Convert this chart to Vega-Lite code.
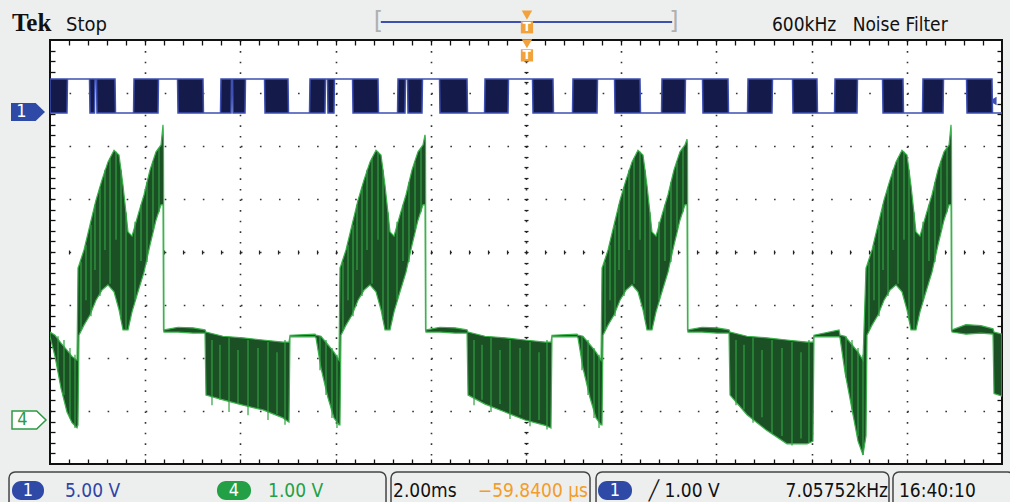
{
 "$schema": "https://vega.github.io/schema/vega-lite/v6.json",
 "width": 952, "height": 424,
 "autosize": {"type": "none"},
 "padding": {"left": 50, "top": 40, "right": 8, "bottom": 38},
 "background": "#edefee",
 "config": {
  "view": {"stroke": "#111111", "strokeWidth": 2, "fill": "#ffffff"},
  "text": {"font": "DejaVu Sans Condensed, Liberation Sans Narrow, Roboto", "fontSize": 19, "align": "left", "baseline": "alphabetic"}
 },
 "data": {"values": [{}]},
 "datasets": {
  "green": [
   {"t":-10.0,"hi":1.66,"lo":1.58},{"t":-9.895,"hi":1.60,"lo":1.20},{"t":-9.769,"hi":1.45,"lo":0.60},{"t":-9.643,"hi":1.32,"lo":0.15},{"t":-9.538,"hi":1.20,"lo":-0.05},{"t":-9.433,"hi":1.13,"lo":-0.15},
   {"t":-9.412,"hi":2.87,"lo":-0.09},{"t":-9.391,"hi":2.92,"lo":1.60},{"t":-9.286,"hi":3.21,"lo":1.79},{"t":-9.160,"hi":3.68,"lo":1.98},{"t":-9.034,"hi":4.15,"lo":2.26},{"t":-8.908,"hi":4.53,"lo":2.45},{"t":-8.782,"hi":4.87,"lo":2.55},{"t":-8.655,"hi":5.09,"lo":2.42},{"t":-8.550,"hi":5.00,"lo":2.08},{"t":-8.466,"hi":4.43,"lo":1.70},{"t":-8.361,"hi":3.55,"lo":1.70},{"t":-8.277,"hi":3.47,"lo":2.04},{"t":-8.151,"hi":3.87,"lo":2.42},{"t":-8.025,"hi":4.25,"lo":2.79},{"t":-7.899,"hi":4.72,"lo":3.30},{"t":-7.773,"hi":5.06,"lo":3.77},{"t":-7.668,"hi":5.19,"lo":4.06},{"t":-7.626,"hi":5.57,"lo":4.06},{"t":-7.616,"hi":5.28,"lo":1.70},{"t":-7.605,"hi":1.70,"lo":1.66},{"t":-7.311,"hi":1.75,"lo":1.66},{"t":-6.996,"hi":1.74,"lo":1.64},{"t":-6.744,"hi":1.70,"lo":1.64},{"t":-6.723,"hi":1.66,"lo":0.47},{"t":-6.366,"hi":1.58,"lo":0.38},{"t":-5.945,"hi":1.55,"lo":0.28},{"t":-5.525,"hi":1.51,"lo":0.19},{"t":-5.105,"hi":1.47,"lo":0.04},{"t":-4.979,"hi":1.47,"lo":-0.04},{"t":-4.958,"hi":1.60,"lo":1.57},{"t":-4.433,"hi":1.62,"lo":1.57},{"t":-4.412,"hi":1.60,"lo":1.55},{"t":-4.307,"hi":1.58,"lo":0.98},{"t":-4.160,"hi":1.42,"lo":0.42},{"t":-4.034,"hi":1.28,"lo":0.04},{"t":-3.929,"hi":1.13,"lo":-0.09},
   {"t":-3.908,"hi":2.87,"lo":-0.09},{"t":-3.887,"hi":2.92,"lo":1.60},{"t":-3.782,"hi":3.21,"lo":1.79},{"t":-3.655,"hi":3.68,"lo":1.98},{"t":-3.529,"hi":4.15,"lo":2.26},{"t":-3.403,"hi":4.53,"lo":2.45},{"t":-3.277,"hi":4.87,"lo":2.55},{"t":-3.151,"hi":5.09,"lo":2.42},{"t":-3.046,"hi":5.00,"lo":2.08},{"t":-2.962,"hi":4.43,"lo":1.70},{"t":-2.857,"hi":3.55,"lo":1.70},{"t":-2.773,"hi":3.47,"lo":2.04},{"t":-2.647,"hi":3.87,"lo":2.42},{"t":-2.521,"hi":4.25,"lo":2.79},{"t":-2.395,"hi":4.72,"lo":3.30},{"t":-2.269,"hi":5.06,"lo":3.77},{"t":-2.164,"hi":5.19,"lo":4.06},{"t":-2.122,"hi":5.38,"lo":4.06},{"t":-2.111,"hi":5.28,"lo":1.70},{"t":-2.101,"hi":1.70,"lo":1.66},{"t":-1.807,"hi":1.75,"lo":1.66},{"t":-1.492,"hi":1.74,"lo":1.64},{"t":-1.239,"hi":1.70,"lo":1.64},{"t":-1.218,"hi":1.66,"lo":0.47},{"t":-0.861,"hi":1.58,"lo":0.30},{"t":-0.441,"hi":1.55,"lo":0.15},{"t":-0.021,"hi":1.51,"lo":0.0},{"t":0.399,"hi":1.47,"lo":-0.10},{"t":0.525,"hi":1.47,"lo":-0.15},{"t":0.546,"hi":1.60,"lo":1.57},{"t":1.071,"hi":1.62,"lo":1.57},{"t":1.092,"hi":1.60,"lo":1.55},{"t":1.197,"hi":1.58,"lo":0.98},{"t":1.345,"hi":1.42,"lo":0.42},{"t":1.471,"hi":1.28,"lo":0.04},{"t":1.576,"hi":1.13,"lo":-0.09},
   {"t":1.597,"hi":2.87,"lo":-0.09},{"t":1.618,"hi":2.92,"lo":1.60},{"t":1.723,"hi":3.21,"lo":1.79},{"t":1.849,"hi":3.68,"lo":1.98},{"t":1.975,"hi":4.15,"lo":2.26},{"t":2.101,"hi":4.53,"lo":2.45},{"t":2.227,"hi":4.87,"lo":2.55},{"t":2.353,"hi":5.09,"lo":2.42},{"t":2.458,"hi":5.00,"lo":2.08},{"t":2.542,"hi":4.43,"lo":1.70},{"t":2.647,"hi":3.55,"lo":1.70},{"t":2.731,"hi":3.47,"lo":2.04},{"t":2.857,"hi":3.87,"lo":2.42},{"t":2.983,"hi":4.25,"lo":2.79},{"t":3.109,"hi":4.72,"lo":3.30},{"t":3.235,"hi":5.06,"lo":3.77},{"t":3.340,"hi":5.19,"lo":4.06},{"t":3.382,"hi":5.30,"lo":4.06},{"t":3.393,"hi":5.20,"lo":1.70},{"t":3.403,"hi":1.70,"lo":1.66},{"t":3.697,"hi":1.75,"lo":1.66},{"t":4.013,"hi":1.74,"lo":1.64},{"t":4.265,"hi":1.70,"lo":1.64},{"t":4.286,"hi":1.66,"lo":0.47},{"t":4.643,"hi":1.58,"lo":0.10},{"t":5.063,"hi":1.55,"lo":-0.20},{"t":5.483,"hi":1.51,"lo":-0.45},{"t":5.903,"hi":1.47,"lo":-0.45},{"t":6.029,"hi":1.47,"lo":-0.40},{"t":6.050,"hi":1.60,"lo":1.57},{"t":6.576,"hi":1.70,"lo":1.57},{"t":6.597,"hi":1.60,"lo":1.55},{"t":6.702,"hi":1.58,"lo":0.90},{"t":6.849,"hi":1.42,"lo":0.20},{"t":6.975,"hi":1.28,"lo":-0.40},{"t":7.080,"hi":1.13,"lo":-0.66},
   {"t":7.143,"hi":2.87,"lo":-0.30},{"t":7.164,"hi":2.92,"lo":1.60},{"t":7.269,"hi":3.21,"lo":1.79},{"t":7.395,"hi":3.68,"lo":1.98},{"t":7.521,"hi":4.15,"lo":2.26},{"t":7.647,"hi":4.53,"lo":2.45},{"t":7.773,"hi":4.87,"lo":2.55},{"t":7.899,"hi":5.09,"lo":2.42},{"t":8.004,"hi":5.00,"lo":2.08},{"t":8.088,"hi":4.43,"lo":1.70},{"t":8.193,"hi":3.55,"lo":1.70},{"t":8.277,"hi":3.47,"lo":2.04},{"t":8.403,"hi":3.87,"lo":2.42},{"t":8.529,"hi":4.25,"lo":2.79},{"t":8.655,"hi":4.72,"lo":3.30},{"t":8.782,"hi":5.06,"lo":3.77},{"t":8.887,"hi":5.19,"lo":4.06},{"t":8.929,"hi":5.57,"lo":4.06},{"t":8.939,"hi":5.28,"lo":1.70},{"t":8.950,"hi":1.70,"lo":1.66},{"t":9.244,"hi":1.80,"lo":1.62},{"t":9.559,"hi":1.78,"lo":1.64},{"t":9.811,"hi":1.72,"lo":1.62},{"t":9.832,"hi":1.66,"lo":0.50},{"t":10.0,"hi":1.62,"lo":0.45}
  ],
  "stripes": [
   {"t":-9.832,"a":1.58,"b":0.94},{"t":-9.706,"a":1.51,"b":0.47},{"t":-9.580,"a":1.36,"b":0.04},{"t":-9.475,"a":1.23,"b":-0.15},
   {"t":-9.349,"a":2.98,"b":1.70},{"t":-9.244,"a":3.30,"b":2.26},{"t":-9.139,"a":3.68,"b":1.96},{"t":-9.055,"a":4.06,"b":2.83},{"t":-8.950,"a":4.38,"b":2.34},{"t":-8.845,"a":4.72,"b":3.21},{"t":-8.739,"a":4.94,"b":2.57},{"t":-8.613,"a":5.06,"b":3.40},{"t":-8.508,"a":4.72,"b":1.92},{"t":-8.403,"a":3.92,"b":1.70},{"t":-8.214,"a":3.74,"b":2.26},{"t":-8.088,"a":4.06,"b":3.00},{"t":-7.962,"a":4.49,"b":2.98},{"t":-7.836,"a":4.87,"b":3.58},{"t":-7.710,"a":5.13,"b":3.92},
   {"t":-6.597,"a":1.51,"b":0.28},{"t":-6.429,"a":1.42,"b":0.38},{"t":-6.239,"a":1.55,"b":0.15},{"t":-6.050,"a":1.32,"b":0.30},{"t":-5.840,"a":1.51,"b":0.09},{"t":-5.630,"a":1.36,"b":0.23},{"t":-5.420,"a":1.47,"b":0.0},{"t":-5.231,"a":1.28,"b":0.11},{"t":-5.063,"a":1.51,"b":-0.09},
   {"t":-4.328,"a":1.58,"b":0.94},{"t":-4.202,"a":1.51,"b":0.47},{"t":-4.076,"a":1.36,"b":0.04},{"t":-3.971,"a":1.23,"b":-0.15},
   {"t":-3.845,"a":2.98,"b":1.70},{"t":-3.739,"a":3.30,"b":2.26},{"t":-3.634,"a":3.68,"b":1.96},{"t":-3.550,"a":4.06,"b":2.83},{"t":-3.445,"a":4.38,"b":2.34},{"t":-3.340,"a":4.72,"b":3.21},{"t":-3.235,"a":4.94,"b":2.57},{"t":-3.109,"a":5.06,"b":3.40},{"t":-3.004,"a":4.72,"b":1.92},{"t":-2.899,"a":3.92,"b":1.70},{"t":-2.710,"a":3.74,"b":2.26},{"t":-2.584,"a":4.06,"b":3.00},{"t":-2.458,"a":4.49,"b":2.98},{"t":-2.332,"a":4.87,"b":3.58},{"t":-2.206,"a":5.13,"b":3.92},
   {"t":-1.092,"a":1.51,"b":0.28},{"t":-0.924,"a":1.42,"b":0.38},{"t":-0.735,"a":1.55,"b":0.15},{"t":-0.546,"a":1.32,"b":0.30},{"t":-0.336,"a":1.51,"b":0.02},{"t":-0.126,"a":1.36,"b":0.10},{"t":0.084,"a":1.47,"b":-0.12},{"t":0.273,"a":1.28,"b":0.00},{"t":0.441,"a":1.51,"b":-0.18},
   {"t":1.176,"a":1.58,"b":0.94},{"t":1.303,"a":1.51,"b":0.47},{"t":1.429,"a":1.36,"b":0.04},{"t":1.534,"a":1.23,"b":-0.15},
   {"t":1.660,"a":2.98,"b":1.70},{"t":1.765,"a":3.30,"b":2.26},{"t":1.870,"a":3.68,"b":1.96},{"t":1.954,"a":4.06,"b":2.83},{"t":2.059,"a":4.38,"b":2.34},{"t":2.164,"a":4.72,"b":3.21},{"t":2.269,"a":4.94,"b":2.57},{"t":2.395,"a":5.06,"b":3.40},{"t":2.500,"a":4.72,"b":1.92},{"t":2.605,"a":3.92,"b":1.70},{"t":2.794,"a":3.74,"b":2.26},{"t":2.920,"a":4.06,"b":3.00},{"t":3.046,"a":4.49,"b":2.98},{"t":3.172,"a":4.87,"b":3.58},{"t":3.298,"a":5.13,"b":3.92},
   {"t":4.412,"a":1.51,"b":0.28},{"t":4.580,"a":1.42,"b":0.20},{"t":4.769,"a":1.55,"b":-0.05},{"t":4.958,"a":1.32,"b":0.05},{"t":5.168,"a":1.51,"b":-0.25},{"t":5.378,"a":1.36,"b":-0.30},{"t":5.588,"a":1.47,"b":-0.48},{"t":5.777,"a":1.28,"b":-0.35},{"t":5.945,"a":1.51,"b":-0.42},
   {"t":6.723,"a":1.58,"b":0.80},{"t":6.849,"a":1.51,"b":0.20},{"t":6.975,"a":1.36,"b":-0.30},{"t":7.080,"a":1.23,"b":-0.66},
   {"t":7.206,"a":2.98,"b":1.70},{"t":7.311,"a":3.30,"b":2.26},{"t":7.416,"a":3.68,"b":1.96},{"t":7.500,"a":4.06,"b":2.83},{"t":7.605,"a":4.38,"b":2.34},{"t":7.710,"a":4.72,"b":3.21},{"t":7.815,"a":4.94,"b":2.57},{"t":7.941,"a":5.06,"b":3.40},{"t":8.046,"a":4.72,"b":1.92},{"t":8.151,"a":3.92,"b":1.70},{"t":8.340,"a":3.74,"b":2.26},{"t":8.466,"a":4.06,"b":3.00},{"t":8.592,"a":4.49,"b":2.98},{"t":8.718,"a":4.87,"b":3.58},{"t":8.845,"a":5.13,"b":3.92}
  ],
  "blue": [
   {"t":-10.0,"hi":3.1,"lo":-0.1},{"t":-9.643,"hi":3.1,"lo":-0.1},{"t":-9.633,"hi":3.1,"lo":3.1},{"t":-9.170,"hi":3.1,"lo":3.1},
   {"t":-9.160,"hi":3.1,"lo":-0.1},{"t":-9.065,"hi":3.1,"lo":-0.1},{"t":-9.055,"hi":3.1,"lo":3.1},{"t":-9.023,"hi":3.1,"lo":3.1},
   {"t":-9.013,"hi":3.1,"lo":-0.1},{"t":-8.634,"hi":3.1,"lo":-0.1},{"t":-8.624,"hi":-0.1,"lo":-0.1},{"t":-8.245,"hi":-0.1,"lo":-0.1},
   {"t":-8.235,"hi":3.1,"lo":-0.1},{"t":-7.731,"hi":3.1,"lo":-0.1},{"t":-7.721,"hi":3.1,"lo":3.1},{"t":-7.321,"hi":3.1,"lo":3.1},
   {"t":-7.311,"hi":3.1,"lo":-0.1},{"t":-6.786,"hi":3.1,"lo":-0.1},{"t":-6.776,"hi":-0.1,"lo":-0.1},{"t":-6.418,"hi":-0.1,"lo":-0.1},
   {"t":-6.408,"hi":3.1,"lo":-0.1},{"t":-6.197,"hi":3.1,"lo":-0.1},{"t":-6.187,"hi":3.1,"lo":3.1},{"t":-6.165,"hi":3.1,"lo":3.1},
   {"t":-6.155,"hi":3.1,"lo":-0.1},{"t":-5.903,"hi":3.1,"lo":-0.1},{"t":-5.893,"hi":3.1,"lo":3.1},{"t":-5.493,"hi":3.1,"lo":3.1},
   {"t":-5.483,"hi":3.1,"lo":-0.1},{"t":-5.000,"hi":3.1,"lo":-0.1},{"t":-4.990,"hi":-0.1,"lo":-0.1},{"t":-4.548,"hi":-0.1,"lo":-0.1},
   {"t":-4.538,"hi":3.1,"lo":-0.1},{"t":-4.223,"hi":3.1,"lo":-0.1},{"t":-4.213,"hi":3.1,"lo":3.1},{"t":-4.170,"hi":3.1,"lo":3.1},
   {"t":-4.160,"hi":3.1,"lo":-0.1},{"t":-4.034,"hi":3.1,"lo":-0.1},{"t":-4.024,"hi":3.1,"lo":3.1},{"t":-3.644,"hi":3.1,"lo":3.1},
   {"t":-3.634,"hi":3.1,"lo":-0.1},{"t":-3.109,"hi":3.1,"lo":-0.1},{"t":-3.099,"hi":-0.1,"lo":-0.1},{"t":-2.699,"hi":-0.1,"lo":-0.1},
   {"t":-2.689,"hi":3.1,"lo":-0.1},{"t":-2.542,"hi":3.1,"lo":-0.1},{"t":-2.532,"hi":3.1,"lo":3.1},{"t":-2.489,"hi":3.1,"lo":3.1},
   {"t":-2.479,"hi":3.1,"lo":-0.1},{"t":-2.185,"hi":3.1,"lo":-0.1},{"t":-2.175,"hi":3.1,"lo":3.1},{"t":-1.817,"hi":3.1,"lo":3.1},
   {"t":-1.807,"hi":3.1,"lo":-0.1},{"t":-1.239,"hi":3.1,"lo":-0.1},{"t":-1.229,"hi":-0.1,"lo":-0.1},{"t":-0.871,"hi":-0.1,"lo":-0.1},
   {"t":-0.861,"hi":3.1,"lo":-0.1},{"t":-0.378,"hi":3.1,"lo":-0.1},{"t":-0.368,"hi":3.1,"lo":3.1},{"t":0.137,"hi":3.1,"lo":3.1},
   {"t":0.147,"hi":3.1,"lo":-0.1},{"t":0.567,"hi":3.1,"lo":-0.1},{"t":0.577,"hi":-0.1,"lo":-0.1},{"t":0.977,"hi":-0.1,"lo":-0.1},
   {"t":0.987,"hi":3.1,"lo":-0.1},{"t":1.492,"hi":3.1,"lo":-0.1},{"t":1.502,"hi":3.1,"lo":3.1},{"t":1.860,"hi":3.1,"lo":3.1},
   {"t":1.870,"hi":3.1,"lo":-0.1},{"t":2.395,"hi":3.1,"lo":-0.1},{"t":2.405,"hi":-0.1,"lo":-0.1},{"t":2.847,"hi":-0.1,"lo":-0.1},
   {"t":2.857,"hi":3.1,"lo":-0.1},{"t":3.340,"hi":3.1,"lo":-0.1},{"t":3.350,"hi":3.1,"lo":3.1},{"t":3.708,"hi":3.1,"lo":3.1},
   {"t":3.718,"hi":3.1,"lo":-0.1},{"t":4.244,"hi":3.1,"lo":-0.1},{"t":4.254,"hi":-0.1,"lo":-0.1},{"t":4.654,"hi":-0.1,"lo":-0.1},
   {"t":4.664,"hi":3.1,"lo":-0.1},{"t":5.168,"hi":3.1,"lo":-0.1},{"t":5.178,"hi":3.1,"lo":3.1},{"t":5.599,"hi":3.1,"lo":3.1},
   {"t":5.609,"hi":3.1,"lo":-0.1},{"t":6.113,"hi":3.1,"lo":-0.1},{"t":6.123,"hi":-0.1,"lo":-0.1},{"t":6.482,"hi":-0.1,"lo":-0.1},
   {"t":6.492,"hi":3.1,"lo":-0.1},{"t":6.954,"hi":3.1,"lo":-0.1},{"t":6.964,"hi":3.1,"lo":3.1},{"t":7.490,"hi":3.1,"lo":3.1},
   {"t":7.500,"hi":3.1,"lo":-0.1},{"t":7.920,"hi":3.1,"lo":-0.1},{"t":7.930,"hi":-0.1,"lo":-0.1},{"t":8.330,"hi":-0.1,"lo":-0.1},
   {"t":8.340,"hi":3.1,"lo":-0.1},{"t":8.761,"hi":3.1,"lo":-0.1},{"t":8.771,"hi":3.1,"lo":3.1},{"t":9.255,"hi":3.1,"lo":3.1},
   {"t":9.265,"hi":3.1,"lo":-0.1},{"t":9.790,"hi":3.1,"lo":-0.1},{"t":9.800,"hi":-0.1,"lo":-0.1},{"t":10.0,"hi":-0.1,"lo":-0.1}
  ]
 },
 "layer": [
  {
   "resolve": {"axis": {"x": "independent", "y": "independent"}},
   "layer": [
    {"mark": {"type": "point", "opacity": 0},
     "encoding": {
      "x": {"datum": 0, "type": "quantitative", "scale": {"domain": [-10, 10], "nice": false, "zero": false},
            "axis": {"orient": "bottom", "values": [-8,-6,-4,-2,0,2,4,6,8], "ticks": false, "labels": false, "domain": false, "title": null, "grid": true, "gridColor": "#333333", "gridWidth": 1.6, "gridDash": [1.6, 9.0]}},
      "y": {"datum": 0, "type": "quantitative", "scale": {"domain": [-4, 4], "nice": false, "zero": false},
            "axis": {"orient": "left", "values": [-3,-2,-1,0,1,2,3], "ticks": false, "labels": false, "domain": false, "title": null, "grid": true, "gridColor": "#333333", "gridWidth": 1.6, "gridDash": [1.6, 17.44]}}
     }},
    {"mark": {"type": "point", "opacity": 0},
     "encoding": {
      "x": {"datum": 0, "type": "quantitative", "scale": {"domain": [-10, 10], "nice": false, "zero": false},
            "axis": {"orient": "bottom", "values": [-9.6,-9.2,-8.8,-8.4,-8,-7.6,-7.2,-6.8,-6.4,-6,-5.6,-5.2,-4.8,-4.4,-4,-3.6,-3.2,-2.8,-2.4,-2,-1.6,-1.2,-0.8,-0.4,0,0.4,0.8,1.2,1.6,2,2.4,2.8,3.2,3.6,4,4.4,4.8,5.2,5.6,6,6.4,6.8,7.2,7.6,8,8.4,8.8,9.2,9.6], "tickSize": -5, "tickColor": "#111111", "tickWidth": 1.3, "labels": false, "domain": false, "title": null, "grid": false}},
      "y": {"datum": 0, "type": "quantitative", "scale": {"domain": [-4, 4], "nice": false, "zero": false},
            "axis": {"orient": "left", "values": [-3.8,-3.6,-3.4,-3.2,-3,-2.8,-2.6,-2.4,-2.2,-2,-1.8,-1.6,-1.4,-1.2,-1,-0.8,-0.6,-0.4,-0.2,0,0.2,0.4,0.6,0.8,1,1.2,1.4,1.6,1.8,2,2.2,2.4,2.6,2.8,3,3.2,3.4,3.6,3.8], "tickSize": -5, "tickColor": "#111111", "tickWidth": 1.3, "labels": false, "domain": false, "title": null, "grid": false}}
     }},
    {"mark": {"type": "point", "opacity": 0},
     "encoding": {
      "x": {"datum": 0, "type": "quantitative", "scale": {"domain": [-10, 10], "nice": false, "zero": false},
            "axis": {"orient": "top", "values": [-9.6,-9.2,-8.8,-8.4,-8,-7.6,-7.2,-6.8,-6.4,-6,-5.6,-5.2,-4.8,-4.4,-4,-3.6,-3.2,-2.8,-2.4,-2,-1.6,-1.2,-0.8,-0.4,0,0.4,0.8,1.2,1.6,2,2.4,2.8,3.2,3.6,4,4.4,4.8,5.2,5.6,6,6.4,6.8,7.2,7.6,8,8.4,8.8,9.2,9.6], "tickSize": -5, "tickColor": "#111111", "tickWidth": 1.3, "labels": false, "domain": false, "title": null, "grid": false}},
      "y": {"datum": 0, "type": "quantitative", "scale": {"domain": [-4, 4], "nice": false, "zero": false},
            "axis": {"orient": "right", "values": [-3.8,-3.6,-3.4,-3.2,-3,-2.8,-2.6,-2.4,-2.2,-2,-1.8,-1.6,-1.4,-1.2,-1,-0.8,-0.6,-0.4,-0.2,0,0.2,0.4,0.6,0.8,1,1.2,1.4,1.6,1.8,2,2.2,2.4,2.6,2.8,3,3.2,3.4,3.6,3.8], "tickSize": -5, "tickColor": "#111111", "tickWidth": 1.3, "labels": false, "domain": false, "title": null, "grid": false}}
     }},
    {"mark": {"type": "point", "opacity": 0},
     "encoding": {
      "x": {"datum": 0, "type": "quantitative", "scale": {"domain": [-10, 10], "nice": false, "zero": false},
            "axis": {"orient": "bottom", "offset": -214, "values": [-9.6,-9.2,-8.8,-8.4,-8,-7.6,-7.2,-6.8,-6.4,-6,-5.6,-5.2,-4.8,-4.4,-4,-3.6,-3.2,-2.8,-2.4,-2,-1.6,-1.2,-0.8,-0.4,0,0.4,0.8,1.2,1.6,2,2.4,2.8,3.2,3.6,4,4.4,4.8,5.2,5.6,6,6.4,6.8,7.2,7.6,8,8.4,8.8,9.2,9.6], "tickSize": 4, "tickColor": "#222222", "tickWidth": 1.2, "labels": false, "domain": false, "title": null, "grid": false}},
      "y": {"datum": 0, "type": "quantitative", "scale": {"domain": [-4, 4], "nice": false, "zero": false},
            "axis": {"orient": "left", "offset": -478, "values": [-3.8,-3.6,-3.4,-3.2,-3,-2.8,-2.6,-2.4,-2.2,-2,-1.8,-1.6,-1.4,-1.2,-1,-0.8,-0.6,-0.4,-0.2,0,0.2,0.4,0.6,0.8,1,1.2,1.4,1.6,1.8,2,2.2,2.4,2.6,2.8,3,3.2,3.4,3.6,3.8], "tickSize": 4, "tickColor": "#222222", "tickWidth": 1.2, "labels": false, "domain": false, "title": null, "grid": false}}
     }},
    {"mark": {"type": "text", "text": "Tek", "font": "Liberation Serif", "fontWeight": "bold", "fontSize": 25, "color": "#111111"},
     "encoding": {"x": {"datum": -10.80, "type": "quantitative", "scale": {"domain": [-10, 10], "nice": false, "zero": false}, "axis": null},
                  "y": {"datum": 4.17, "type": "quantitative", "scale": {"domain": [-4, 4], "nice": false, "zero": false}, "axis": null}}},
    {"mark": {"type": "text", "text": "Stop", "fontSize": 20, "color": "#111111"},
     "encoding": {"x": {"datum": -9.664, "type": "quantitative", "scale": {"domain": [-10, 10], "nice": false, "zero": false}, "axis": null},
                  "y": {"datum": 4.17, "type": "quantitative", "scale": {"domain": [-4, 4], "nice": false, "zero": false}, "axis": null}}},
    {"mark": {"type": "text", "text": "600kHz\u00a0\u00a0 Noise Filter", "fontSize": 19, "color": "#111111"},
     "encoding": {"x": {"datum": 5.168, "type": "quantitative", "scale": {"domain": [-10, 10], "nice": false, "zero": false}, "axis": null},
                  "y": {"datum": 4.17, "type": "quantitative", "scale": {"domain": [-4, 4], "nice": false, "zero": false}, "axis": null}}},
    {"mark": {"type": "rule", "color": "#3d4fb0", "strokeWidth": 2},
     "encoding": {"x": {"datum": -3.05, "type": "quantitative", "scale": {"domain": [-10, 10], "nice": false, "zero": false}, "axis": null},
                  "x2": {"datum": 3.07},
                  "y": {"datum": 4.34, "type": "quantitative", "scale": {"domain": [-4, 4], "nice": false, "zero": false}, "axis": null}}},
    {"mark": {"type": "text", "text": "[", "fontSize": 24, "color": "#b0b0b0", "align": "center", "baseline": "middle", "font": "DejaVu Sans"},
     "encoding": {"x": {"datum": -3.10, "type": "quantitative", "scale": {"domain": [-10, 10], "nice": false, "zero": false}, "axis": null},
                  "y": {"datum": 4.34, "type": "quantitative", "scale": {"domain": [-4, 4], "nice": false, "zero": false}, "axis": null}}},
    {"mark": {"type": "text", "text": "]", "fontSize": 24, "color": "#b0b0b0", "align": "center", "baseline": "middle", "font": "DejaVu Sans"},
     "encoding": {"x": {"datum": 3.11, "type": "quantitative", "scale": {"domain": [-10, 10], "nice": false, "zero": false}, "axis": null},
                  "y": {"datum": 4.34, "type": "quantitative", "scale": {"domain": [-4, 4], "nice": false, "zero": false}, "axis": null}}},
    {"mark": {"type": "point", "shape": "triangle-down", "size": 110, "filled": true, "color": "#f2a23c", "opacity": 1},
     "encoding": {"x": {"datum": 0.02, "type": "quantitative", "scale": {"domain": [-10, 10], "nice": false, "zero": false}, "axis": null},
                  "y": {"datum": 4.47, "type": "quantitative", "scale": {"domain": [-4, 4], "nice": false, "zero": false}, "axis": null}}},
    {"mark": {"type": "point", "shape": "square", "size": 150, "filled": true, "color": "#f2a23c", "opacity": 1},
     "encoding": {"x": {"datum": 0.02, "type": "quantitative", "scale": {"domain": [-10, 10], "nice": false, "zero": false}, "axis": null},
                  "y": {"datum": 4.24, "type": "quantitative", "scale": {"domain": [-4, 4], "nice": false, "zero": false}, "axis": null}}},
    {"mark": {"type": "text", "text": "T", "fontSize": 12, "fontWeight": "bold", "color": "#ffffff", "align": "center", "baseline": "middle", "font": "DejaVu Sans"},
     "encoding": {"x": {"datum": 0.02, "type": "quantitative", "scale": {"domain": [-10, 10], "nice": false, "zero": false}, "axis": null},
                  "y": {"datum": 4.24, "type": "quantitative", "scale": {"domain": [-4, 4], "nice": false, "zero": false}, "axis": null}}},
    {"mark": {"type": "point", "shape": "triangle-down", "size": 110, "filled": true, "color": "#f2a23c", "opacity": 1},
     "encoding": {"x": {"datum": 0.02, "type": "quantitative", "scale": {"domain": [-10, 10], "nice": false, "zero": false}, "axis": null},
                  "y": {"datum": 3.93, "type": "quantitative", "scale": {"domain": [-4, 4], "nice": false, "zero": false}, "axis": null}}},
    {"mark": {"type": "point", "shape": "square", "size": 150, "filled": true, "color": "#f2a23c", "opacity": 1},
     "encoding": {"x": {"datum": 0.02, "type": "quantitative", "scale": {"domain": [-10, 10], "nice": false, "zero": false}, "axis": null},
                  "y": {"datum": 3.71, "type": "quantitative", "scale": {"domain": [-4, 4], "nice": false, "zero": false}, "axis": null}}},
    {"mark": {"type": "text", "text": "T", "fontSize": 12, "fontWeight": "bold", "color": "#ffffff", "align": "center", "baseline": "middle", "font": "DejaVu Sans"},
     "encoding": {"x": {"datum": 0.02, "type": "quantitative", "scale": {"domain": [-10, 10], "nice": false, "zero": false}, "axis": null},
                  "y": {"datum": 3.71, "type": "quantitative", "scale": {"domain": [-4, 4], "nice": false, "zero": false}, "axis": null}}},
    {"mark": {"type": "point", "shape": "M -1 -0.53 L 0.45 -0.53 L 1 0 L 0.45 0.53 L -1 0.53 Z", "size": 1156, "filled": true, "color": "#2f4aa6", "opacity": 1},
     "encoding": {"x": {"datum": -10.462, "type": "quantitative", "scale": {"domain": [-10, 10], "nice": false, "zero": false}, "axis": null},
                  "y": {"datum": 2.642, "type": "quantitative", "scale": {"domain": [-4, 4], "nice": false, "zero": false}, "axis": null}}},
    {"mark": {"type": "text", "text": "1", "fontSize": 18, "color": "#ffffff", "align": "center", "baseline": "middle"},
     "encoding": {"x": {"datum": -10.60, "type": "quantitative", "scale": {"domain": [-10, 10], "nice": false, "zero": false}, "axis": null},
                  "y": {"datum": 2.642, "type": "quantitative", "scale": {"domain": [-4, 4], "nice": false, "zero": false}, "axis": null}}},
    {"mark": {"type": "point", "shape": "M -1 -0.53 L 0.45 -0.53 L 1 0 L 0.45 0.53 L -1 0.53 Z", "size": 1156, "filled": true, "fill": "#ffffff", "stroke": "#2e9a45", "strokeWidth": 1.5, "opacity": 1},
     "encoding": {"x": {"datum": -10.441, "type": "quantitative", "scale": {"domain": [-10, 10], "nice": false, "zero": false}, "axis": null},
                  "y": {"datum": -3.17, "type": "quantitative", "scale": {"domain": [-4, 4], "nice": false, "zero": false}, "axis": null}}},
    {"mark": {"type": "text", "text": "4", "fontSize": 18, "color": "#2e9a45", "align": "center", "baseline": "middle"},
     "encoding": {"x": {"datum": -10.58, "type": "quantitative", "scale": {"domain": [-10, 10], "nice": false, "zero": false}, "axis": null},
                  "y": {"datum": -3.17, "type": "quantitative", "scale": {"domain": [-4, 4], "nice": false, "zero": false}, "axis": null}}},
    {"mark": {"type": "point", "shape": "triangle-left", "size": 70, "filled": true, "color": "#3d4fb0", "opacity": 1},
     "encoding": {"x": {"datum": 9.81, "type": "quantitative", "scale": {"domain": [-10, 10], "nice": false, "zero": false}, "axis": null},
                  "y": {"datum": 2.85, "type": "quantitative", "scale": {"domain": [-4, 4], "nice": false, "zero": false}, "axis": null}}},
    {"mark": {"type": "rect", "fill": null, "fillOpacity": 0, "stroke": "#444444", "strokeWidth": 1.5, "cornerRadius": 6},
     "encoding": {"x": {"datum": -10.861, "type": "quantitative", "scale": {"domain": [-10, 10], "nice": false, "zero": false}, "axis": null}, "x2": {"datum": -2.941},
                  "y": {"datum": -4.151, "type": "quantitative", "scale": {"domain": [-4, 4], "nice": false, "zero": false}, "axis": null}, "y2": {"datum": -4.87}}},
    {"mark": {"type": "rect", "fill": null, "fillOpacity": 0, "stroke": "#444444", "strokeWidth": 1.5, "cornerRadius": 6},
     "encoding": {"x": {"datum": -2.836, "type": "quantitative", "scale": {"domain": [-10, 10], "nice": false, "zero": false}, "axis": null}, "x2": {"datum": 1.345},
                  "y": {"datum": -4.151, "type": "quantitative", "scale": {"domain": [-4, 4], "nice": false, "zero": false}, "axis": null}, "y2": {"datum": -4.87}}},
    {"mark": {"type": "rect", "fill": null, "fillOpacity": 0, "stroke": "#444444", "strokeWidth": 1.5, "cornerRadius": 6},
     "encoding": {"x": {"datum": 1.471, "type": "quantitative", "scale": {"domain": [-10, 10], "nice": false, "zero": false}, "axis": null}, "x2": {"datum": 7.626},
                  "y": {"datum": -4.151, "type": "quantitative", "scale": {"domain": [-4, 4], "nice": false, "zero": false}, "axis": null}, "y2": {"datum": -4.87}}},
    {"mark": {"type": "rect", "fill": null, "fillOpacity": 0, "stroke": "#444444", "strokeWidth": 1.5, "cornerRadius": 6},
     "encoding": {"x": {"datum": 7.71, "type": "quantitative", "scale": {"domain": [-10, 10], "nice": false, "zero": false}, "axis": null}, "x2": {"datum": 10.25},
                  "y": {"datum": -4.151, "type": "quantitative", "scale": {"domain": [-4, 4], "nice": false, "zero": false}, "axis": null}, "y2": {"datum": -4.87}}},
    {"mark": {"type": "rect", "fill": "#2f4aa6", "cornerRadius": 9},
     "encoding": {"x": {"datum": -10.798, "type": "quantitative", "scale": {"domain": [-10, 10], "nice": false, "zero": false}, "axis": null}, "x2": {"datum": -10.126},
                  "y": {"datum": -4.321, "type": "quantitative", "scale": {"domain": [-4, 4], "nice": false, "zero": false}, "axis": null}, "y2": {"datum": -4.679}}},
    {"mark": {"type": "text", "text": "1", "fontSize": 18, "color": "#ffffff", "align": "center", "baseline": "middle"},
     "encoding": {"x": {"datum": -10.462, "type": "quantitative", "scale": {"domain": [-10, 10], "nice": false, "zero": false}, "axis": null},
                  "y": {"datum": -4.5, "type": "quantitative", "scale": {"domain": [-4, 4], "nice": false, "zero": false}, "axis": null}}},
    {"mark": {"type": "text", "text": "5.00 V", "color": "#2f45a6"},
     "encoding": {"x": {"datum": -9.685, "type": "quantitative", "scale": {"domain": [-10, 10], "nice": false, "zero": false}, "axis": null},
                  "y": {"datum": -4.62, "type": "quantitative", "scale": {"domain": [-4, 4], "nice": false, "zero": false}, "axis": null}}},
    {"mark": {"type": "rect", "fill": "#23a045", "cornerRadius": 9},
     "encoding": {"x": {"datum": -6.492, "type": "quantitative", "scale": {"domain": [-10, 10], "nice": false, "zero": false}, "axis": null}, "x2": {"datum": -5.777},
                  "y": {"datum": -4.321, "type": "quantitative", "scale": {"domain": [-4, 4], "nice": false, "zero": false}, "axis": null}, "y2": {"datum": -4.679}}},
    {"mark": {"type": "text", "text": "4", "fontSize": 18, "color": "#ffffff", "align": "center", "baseline": "middle"},
     "encoding": {"x": {"datum": -6.134, "type": "quantitative", "scale": {"domain": [-10, 10], "nice": false, "zero": false}, "axis": null},
                  "y": {"datum": -4.5, "type": "quantitative", "scale": {"domain": [-4, 4], "nice": false, "zero": false}, "axis": null}}},
    {"mark": {"type": "text", "text": "1.00 V", "color": "#23a045"},
     "encoding": {"x": {"datum": -5.42, "type": "quantitative", "scale": {"domain": [-10, 10], "nice": false, "zero": false}, "axis": null},
                  "y": {"datum": -4.62, "type": "quantitative", "scale": {"domain": [-4, 4], "nice": false, "zero": false}, "axis": null}}},
    {"mark": {"type": "text", "text": "2.00ms", "color": "#111111"},
     "encoding": {"x": {"datum": -2.794, "type": "quantitative", "scale": {"domain": [-10, 10], "nice": false, "zero": false}, "axis": null},
                  "y": {"datum": -4.62, "type": "quantitative", "scale": {"domain": [-4, 4], "nice": false, "zero": false}, "axis": null}}},
    {"mark": {"type": "text", "text": "\u221259.8400\u00a0\u00b5s", "color": "#f39c2b", "align": "right"},
     "encoding": {"x": {"datum": 1.303, "type": "quantitative", "scale": {"domain": [-10, 10], "nice": false, "zero": false}, "axis": null},
                  "y": {"datum": -4.62, "type": "quantitative", "scale": {"domain": [-4, 4], "nice": false, "zero": false}, "axis": null}}},
    {"mark": {"type": "rect", "fill": "#2f4aa6", "cornerRadius": 9},
     "encoding": {"x": {"datum": 1.513, "type": "quantitative", "scale": {"domain": [-10, 10], "nice": false, "zero": false}, "axis": null}, "x2": {"datum": 2.227},
                  "y": {"datum": -4.321, "type": "quantitative", "scale": {"domain": [-4, 4], "nice": false, "zero": false}, "axis": null}, "y2": {"datum": -4.679}}},
    {"mark": {"type": "text", "text": "1", "fontSize": 18, "color": "#ffffff", "align": "center", "baseline": "middle"},
     "encoding": {"x": {"datum": 1.87, "type": "quantitative", "scale": {"domain": [-10, 10], "nice": false, "zero": false}, "axis": null},
                  "y": {"datum": -4.5, "type": "quantitative", "scale": {"domain": [-4, 4], "nice": false, "zero": false}, "axis": null}}},
    {"mark": {"type": "text", "text": "\u2571 1.00 V", "color": "#111111"},
     "encoding": {"x": {"datum": 2.58, "type": "quantitative", "scale": {"domain": [-10, 10], "nice": false, "zero": false}, "axis": null},
                  "y": {"datum": -4.62, "type": "quantitative", "scale": {"domain": [-4, 4], "nice": false, "zero": false}, "axis": null}}},
    {"mark": {"type": "text", "text": "7.05752kHz", "color": "#111111", "align": "right"},
     "encoding": {"x": {"datum": 7.605, "type": "quantitative", "scale": {"domain": [-10, 10], "nice": false, "zero": false}, "axis": null},
                  "y": {"datum": -4.62, "type": "quantitative", "scale": {"domain": [-4, 4], "nice": false, "zero": false}, "axis": null}}},
    {"mark": {"type": "text", "text": "16:40:10", "color": "#111111"},
     "encoding": {"x": {"datum": 7.836, "type": "quantitative", "scale": {"domain": [-10, 10], "nice": false, "zero": false}, "axis": null},
                  "y": {"datum": -4.62, "type": "quantitative", "scale": {"domain": [-4, 4], "nice": false, "zero": false}, "axis": null}}}
   ]
  },
  {
   "data": {"name": "green"},
   "mark": {"type": "area", "fill": "#1b4f24", "fillOpacity": 1, "stroke": "#3cb24c", "strokeWidth": 1.2, "clip": true},
   "encoding": {
    "x": {"field": "t", "type": "quantitative", "scale": {"domain": [-10, 10], "nice": false, "zero": false}, "axis": null},
    "y": {"field": "hi", "type": "quantitative", "scale": {"domain": [-0.83, 7.17], "nice": false, "zero": false}, "axis": null},
    "y2": {"field": "lo"}
   }
  },
  {
   "data": {"name": "stripes"},
   "mark": {"type": "rule", "color": "#31a043", "strokeWidth": 1.2, "clip": true},
   "encoding": {
    "x": {"field": "t", "type": "quantitative", "scale": {"domain": [-10, 10], "nice": false, "zero": false}, "axis": null},
    "y": {"field": "a", "type": "quantitative", "scale": {"domain": [-0.83, 7.17], "nice": false, "zero": false}, "axis": null},
    "y2": {"field": "b"}
   }
  },
  {
   "data": {"name": "blue"},
   "mark": {"type": "area", "fill": "#141a4a", "fillOpacity": 1, "stroke": "#3e50b4", "strokeWidth": 1.5, "clip": true},
   "encoding": {
    "x": {"field": "t", "type": "quantitative", "scale": {"domain": [-10, 10], "nice": false, "zero": false}, "axis": null},
    "y": {"field": "hi", "type": "quantitative", "scale": {"domain": [-33.21, 6.79], "nice": false, "zero": false}, "axis": null},
    "y2": {"field": "lo"}
   }
  }
 ],
 "resolve": {"scale": {"y": "independent"}, "axis": {"x": "independent", "y": "independent"}}
}
